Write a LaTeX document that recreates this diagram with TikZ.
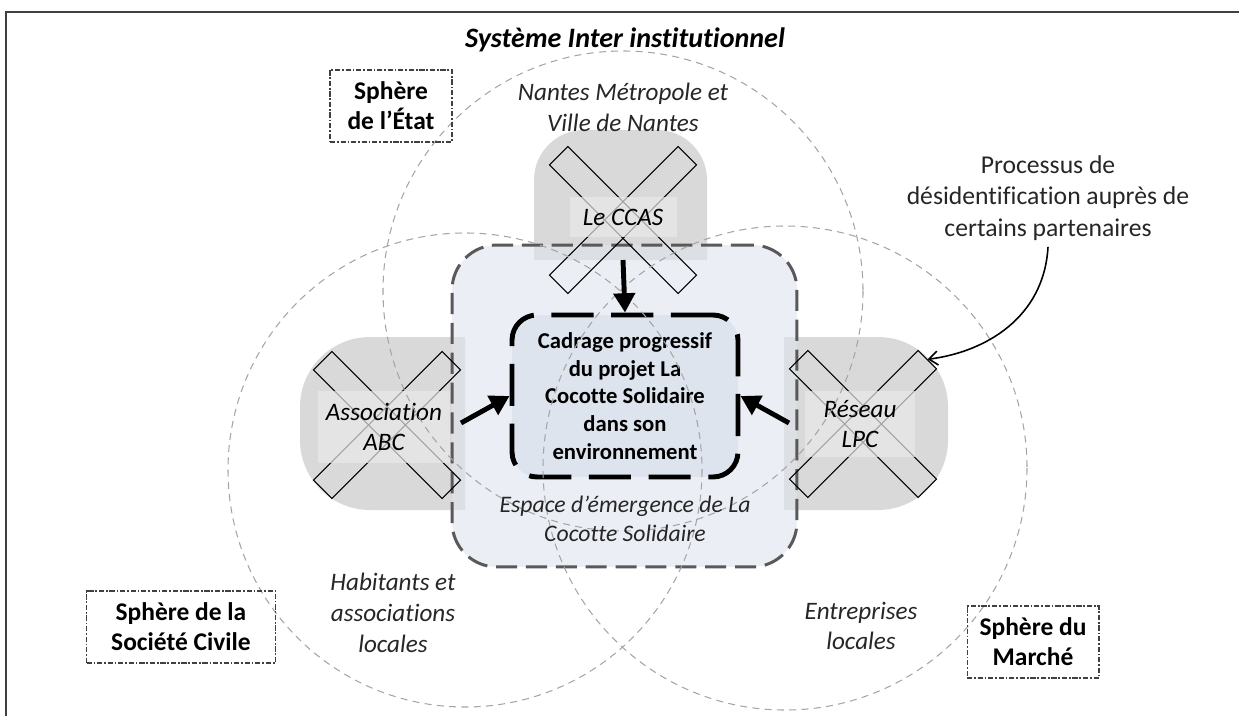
\documentclass[tikz,border=0pt]{standalone}
\usepackage{fontspec}
\setmainfont{Carlito}[Ligatures=CommonOff]
\usetikzlibrary{arrows.meta, positioning, calc}
\definecolor{blobgray}{RGB}{217,217,217}
\definecolor{espacefill}{RGB}{222,229,238}
\definecolor{cadragefill}{RGB}{205,214,228}
\definecolor{circlegray}{RGB}{165,165,165}
\definecolor{bordergray}{RGB}{89,89,89}
\definecolor{labelfill}{RGB}{233,233,233}
\definecolor{framegray}{RGB}{64,64,64}
\tikzset{
    blob/.style={fill=blobgray},
    espace/.style={rectangle, draw=bordergray, line width=1.7pt, dash pattern=on 12pt off 5pt, rounded corners=0.9cm, fill=espacefill, fill opacity=0.6, text opacity=1, minimum width=6.9cm, minimum height=6.44cm},
    cadrage/.style={rectangle, draw=black, line width=2.8pt, dash pattern=on 24pt off 10pt, rounded corners=0.5cm, fill=cadragefill, fill opacity=0.45, text opacity=1, minimum width=4.52cm, minimum height=3.24cm, align=center, font=\bfseries\fontsize{12.9}{15.7}\selectfont},
    bar/.style={rectangle, draw, line width=0.6pt, minimum width=3.64cm, minimum height=0.52cm, inner sep=0pt},
    actor/.style={rectangle, fill=labelfill, fill opacity=0.7, text opacity=1, align=center, inner sep=0pt, font=\itshape\fontsize{14.3}{17.5}\selectfont},
    sphere/.style={draw=circlegray, line width=0.6pt, dash pattern=on 4pt off 3pt},
    sphere box/.style={rectangle, draw=framegray, line width=0.6pt, dash pattern=on 3pt off 1pt on 1pt off 1pt, align=center, minimum height=1.44cm, font=\bfseries\fontsize{14.5}{17}\selectfont},
    label/.style={align=center, text=black!85, font=\itshape\fontsize{14.3}{17.5}\selectfont},
    push/.style={line width=2.8pt, -{Triangle[length=11pt, width=12pt]}},
    nudge/.style={line width=0.9pt, -{Straight Barb[length=5pt, width=8pt]}}
}
\begin{document}
\begin{tikzpicture}[x=0.02cm, y=-0.02cm]
    \useasboundingbox (0,0) rectangle (1239,716);
    \draw[framegray, line width=0.9pt] (6,716) -- (6,12) -- (1239,12);

    \fill[blob] (534,260) -- (534,180) arc[start angle=180, end angle=270, radius=50] -- (657,130) arc[start angle=270, end angle=360, radius=50] -- (707,260) -- cycle;
    \fill[blob] (465,337) -- (370,337) arc[start angle=270, end angle=180, radius=70] -- (300,440) arc[start angle=180, end angle=90, radius=70] -- (465,510) -- cycle;
    \fill[blob] (784,337) -- (878,337) arc[start angle=270, end angle=360, radius=70] -- (948,440) arc[start angle=0, end angle=90, radius=70] -- (784,510) -- cycle;

    \node[espace] (espace) at (624.5,406) {};
    \node[cadrage] (cadrage) at (625,396) {Cadrage progressif\\du projet La\\Cocotte Solidaire\\dans son\\environnement};

    \node[bar, rotate=45] (ccas a) at (623,220) {};
    \node[bar, rotate=-45] (ccas b) at (623,220) {};
    \node[bar, rotate=45] (abc a) at (387,425) {};
    \node[bar, rotate=-45] (abc b) at (387,425) {};
    \node[bar, rotate=45] (lpc a) at (863,424) {};
    \node[bar, rotate=-45] (lpc b) at (863,424) {};

    \node[actor, minimum width=2.14cm, minimum height=0.8cm] (ccas) at (623,217) {Le CCAS};
    \node[actor, minimum width=2.66cm, minimum height=1.46cm] (abc) at (384,427) {Association\\ABC};
    \node[actor, minimum width=2.2cm, minimum height=1.34cm] (lpc) at (860,424) {Réseau\\LPC};

    \draw[sphere] (623,291) circle[radius=240];
    \draw[sphere] (465,470) circle[radius=237];
    \draw[sphere] (785,468) circle[radius=242];

    \node[font=\bfseries\itshape\fontsize{16}{19}\selectfont] (systeme) at (625,40) {Système Inter institutionnel};
    \node[label] (nantes) at (623,107) {Nantes Métropole et\\Ville de Nantes};
    \node[sphere box, minimum width=2.44cm] (etat) at (391,106) {Sphère\\de l’État};
    \node[sphere box, minimum width=3.78cm] (civile) at (181,627) {Sphère de la\\Société Civile};
    \node[sphere box, minimum width=2.64cm] (marche) at (1033,642) {Sphère du\\Marché};
    \node[label] (habitants) at (393,613) {Habitants et\\associations\\locales};
    \node[label] (entreprises) at (861,626) {Entreprises\\locales};
    \node[label, font=\itshape\fontsize{13.5}{16.5}\selectfont, below=0.2cm of cadrage] (emergence) {Espace d’émergence de La\\Cocotte Solidaire};
    \node[align=center, text=black!85, font=\fontsize{14.6}{18}\selectfont] (processus) at (1048,198) {Processus de\\désidentification auprès de\\certains partenaires};

    \coordinate (ccas out) at (623,260);
    \coordinate (abc out) at (461,423);
    \coordinate (lpc out) at (789,423);
    \draw[push] (ccas out) -- (cadrage.north);
    \draw[push] (abc out) -- (cadrage.west);
    \draw[push] (lpc out) -- (cadrage.east);
    \draw[nudge] (processus.south) .. controls (1044,318) and (985,352) .. (lpc a.east);
\end{tikzpicture}
\end{document}
